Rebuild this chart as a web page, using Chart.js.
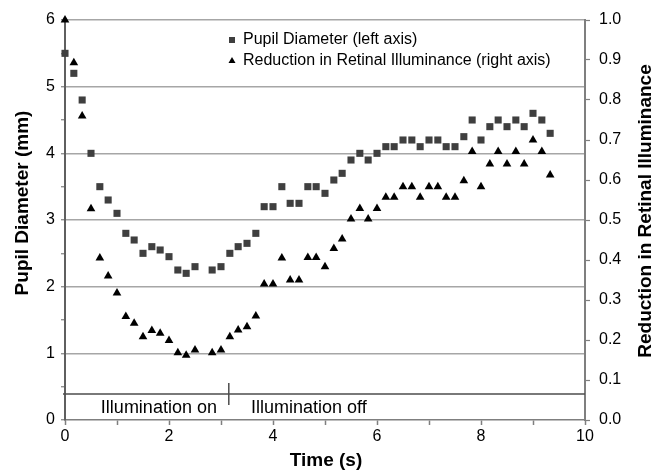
<!DOCTYPE html>
<html>
<head>
<meta charset="utf-8">
<script src="https://cdn.jsdelivr.net/npm/chart.js@4/dist/chart.umd.min.js"></script>
<style>
    body { margin: 0; background: #fff; }
    #chart { display: block; }
</style>
</head>
<body>
<canvas id="chart" width="666" height="475"></canvas>
<script>
// time of each sample (s); the 2.67 s sample is missing in the source
const times = [0, 0.17, 0.33, 0.5, 0.67, 0.83, 1, 1.17, 1.33, 1.5, 1.67, 1.83, 2, 2.17, 2.33, 2.5,
    2.83, 3, 3.17, 3.33, 3.5, 3.67, 3.83, 4, 4.17, 4.33, 4.5, 4.67, 4.83, 5, 5.17, 5.33, 5.5, 5.67, 5.83,
    6, 6.17, 6.33, 6.5, 6.67, 6.83, 7, 7.17, 7.33, 7.5, 7.67, 7.83, 8, 8.17, 8.33, 8.5, 8.67, 8.83,
    9, 9.17, 9.33];
const pupilDiameter = [5.5, 5.2, 4.8, 4.0, 3.5, 3.3, 3.1, 2.8, 2.7, 2.5, 2.6, 2.55, 2.45, 2.25, 2.2, 2.3,
    2.25, 2.3, 2.5, 2.6, 2.65, 2.8, 3.2, 3.2, 3.5, 3.25, 3.25, 3.5, 3.5, 3.4, 3.6, 3.7, 3.9, 4.0, 3.9,
    4.0, 4.1, 4.1, 4.2, 4.2, 4.1, 4.2, 4.2, 4.1, 4.1, 4.25, 4.5, 4.2, 4.4, 4.5, 4.4, 4.5, 4.4,
    4.6, 4.5, 4.3];
const illumReduction = [1.0, 0.893, 0.76, 0.528, 0.405, 0.36, 0.3175, 0.259, 0.242, 0.208, 0.224, 0.217, 0.199, 0.168, 0.162, 0.175,
    0.168, 0.175, 0.208, 0.225, 0.233, 0.26, 0.34, 0.34, 0.405, 0.35, 0.35, 0.406, 0.406, 0.383, 0.429, 0.4525, 0.5025, 0.529, 0.5025,
    0.529, 0.557, 0.557, 0.583, 0.583, 0.557, 0.583, 0.583, 0.557, 0.557, 0.598, 0.671, 0.583, 0.64, 0.671, 0.64, 0.671, 0.64,
    0.70, 0.671, 0.6125];

const seriesLabels = ['Pupil Diameter (left axis)', 'Reduction in Retinal Illuminance (right axis)'];
const xTickLabels = ['0', '2', '4', '6', '8', '10'];
const leftTickLabels = ['0', '1', '2', '3', '4', '5', '6'];
const rightTickLabels = ['0.0', '0.1', '0.2', '0.3', '0.4', '0.5', '0.6', '0.7', '0.8', '0.9', '1.0'];

// illumination bar (data units)
const illumLevel = 0.39;      // mm on left axis
const illumSwitchTime = 3.15; // s
const illumTexts = ['Illumination on', 'Illumination off'];

const FONT = "'Liberation Sans', Arial, sans-serif";
const AXIS_GRAY = '#7f7f7f';

const extras = {
    id: 'extras',
    beforeDatasetsDraw(chart) {
        const { ctx, chartArea } = chart;
        const xs = chart.scales.x, ys = chart.scales.y;
        const y = ys.getPixelForValue(illumLevel);
        const xSw = xs.getPixelForValue(illumSwitchTime);
        ctx.save();
        ctx.strokeStyle = '#4d4d4d';
        ctx.lineWidth = 1.5;
        ctx.beginPath();
        ctx.moveTo(chartArea.left - 2, y);
        ctx.lineTo(chartArea.right, y);
        ctx.moveTo(xSw, y - 11);
        ctx.lineTo(xSw, y + 11);
        ctx.stroke();
        ctx.fillStyle = '#000';
        ctx.font = '18px ' + FONT;
        ctx.textBaseline = 'middle';
        ctx.textAlign = 'center';
        ctx.fillText(illumTexts[0], (chartArea.left + xSw) / 2 + 12, y + 14);
        ctx.fillText(illumTexts[1], xSw + 80, y + 14);
        ctx.restore();
    },
    afterDraw(chart) {
        const { ctx } = chart;
        ctx.save();
        ctx.fillStyle = '#000';
        ctx.textAlign = 'center';
        ctx.textBaseline = 'middle';
        ctx.font = 'bold 19px ' + FONT;
        // axis titles
        ctx.fillText('Time (s)', 326, 461);
        ctx.save();
        ctx.translate(23, 203);
        ctx.rotate(-Math.PI / 2);
        ctx.fillText('Pupil Diameter (mm)', 0, 0);
        ctx.restore();
        ctx.save();
        ctx.translate(646, 211);
        ctx.rotate(-Math.PI / 2);
        ctx.fillText('Reduction in Retinal Illuminance', 0, 0);
        ctx.restore();

        // legend
        ctx.font = '16px ' + FONT;
        ctx.textAlign = 'left';
        const lx = 232, rows = [40, 61];
        chart.data.datasets.forEach((ds, i) => {
            const cy = rows[i];
            ctx.fillStyle = ds.backgroundColor;
            ctx.beginPath();
            if (ds.pointStyle === 'rect') {
                ctx.rect(lx - 3, cy - 3, 6, 6);
            } else {
                ctx.moveTo(lx, cy - 4);
                ctx.lineTo(lx + 3.5, cy + 2);
                ctx.lineTo(lx - 3.5, cy + 2);
                ctx.closePath();
            }
            ctx.fill();
            ctx.fillStyle = '#000';
            ctx.fillText(ds.label, lx + 11, cy);
        });
        ctx.restore();
    }
};

new Chart(document.getElementById('chart'), {
    type: 'scatter',
    data: {
        datasets: [{
            label: seriesLabels[0],
            data: times.map((t, i) => ({ x: t, y: pupilDiameter[i] })),
            yAxisID: 'y',
            pointStyle: 'rect',
            radius: 5,
            borderWidth: 0,
            clip: false,
            backgroundColor: '#3f3f3f',
            borderColor: '#3f3f3f'
        }, {
            label: seriesLabels[1],
            data: times.map((t, i) => ({ x: t, y: illumReduction[i] })),
            yAxisID: 'y1',
            pointStyle: 'triangle',
            radius: 5,
            borderWidth: 0,
            clip: false,
            backgroundColor: '#000',
            borderColor: '#000'
        }]
    },
    options: {
        responsive: false,
        animation: false,
        devicePixelRatio: 1,
        layout: { padding: { top: 20, left: 0, right: 0, bottom: 0 } },
        plugins: {
            legend: { display: false },
            tooltip: { enabled: false }
        },
        scales: {
            x: {
                type: 'linear',
                min: 0, max: 10,
                afterFit: s => { s.height = 55; },
                ticks: {
                    stepSize: 1,
                    autoSkip: false,
                    maxRotation: 0,
                    padding: 2,
                    color: '#000',
                    font: { family: FONT, size: 16 },
                    callback: v => (v % 2 === 0 ? xTickLabels[v / 2] : '')
                },
                grid: { drawOnChartArea: false, tickLength: 5, tickColor: AXIS_GRAY, tickWidth: 1.5 },
                border: { color: AXIS_GRAY, width: 1.5 }
            },
            y: {
                position: 'left',
                min: 0, max: 6,
                afterFit: s => { s.width = 65; },
                ticks: {
                    stepSize: 0.5,
                    autoSkip: false,
                    padding: 6,
                    color: '#000',
                    font: { family: FONT, size: 16 },
                    callback: v => (Number.isInteger(v) ? leftTickLabels[v] : '')
                },
                grid: {
                    color: ctx => (Number.isInteger(ctx.tick.value) && ctx.tick.value > 0 ? '#a6a6a6' : 'rgba(0,0,0,0)'),
                    lineWidth: 1.5,
                    tickLength: 4,
                    tickColor: AXIS_GRAY,
                    tickWidth: 1.2
                },
                border: { color: '#5f5f5f', width: 2 }
            },
            y1: {
                position: 'right',
                min: 0, max: 1,
                afterFit: s => { s.width = 81; },
                ticks: {
                    stepSize: 0.1,
                    autoSkip: false,
                    padding: 9,
                    color: '#000',
                    font: { family: FONT, size: 16 },
                    callback: (v, i) => rightTickLabels[i]
                },
                grid: { drawOnChartArea: false, tickLength: 5, tickColor: AXIS_GRAY, tickWidth: 1.2 },
                border: { color: AXIS_GRAY, width: 2 }
            }
        }
    },
    plugins: [extras]
});
</script>
</body>
</html>
